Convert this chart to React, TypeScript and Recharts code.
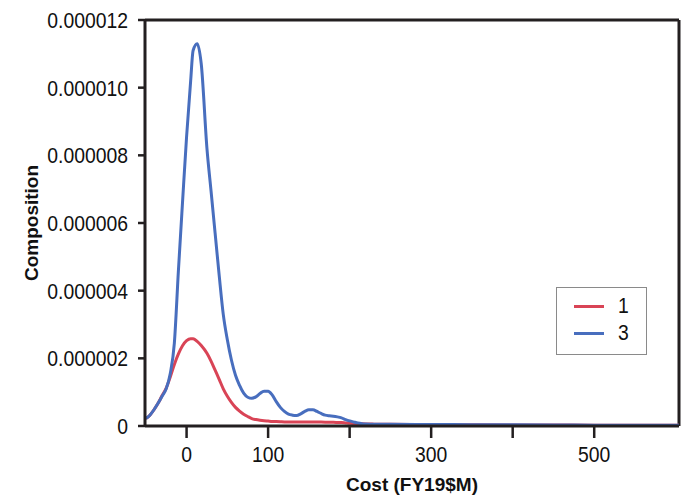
import React from 'react';
import { LineChart, Line, XAxis, YAxis, ReferenceLine } from 'recharts';

const costs = [-50, -45, -40, -35, -30, -25, -20, -15, -10, -5, 0, 5, 8, 13, 18, 25, 30, 35, 40, 45, 50, 55, 60, 65, 70, 75, 80, 85, 90, 95, 100, 105, 110, 115, 120, 125, 130, 135, 140, 145, 150, 155, 160, 165, 170, 175, 180, 185, 190, 195, 200, 205, 210, 215, 220, 230, 250, 300, 350, 400, 450, 500, 550, 604];

const series3 = [0.22e-6, 0.32e-6, 0.48e-6, 0.67e-6, 0.88e-6, 1.1e-6, 1.55e-6, 2.45e-6, 4.6e-6, 6.6e-6, 8.55e-6, 10.2e-6, 11.1e-6, 11.3e-6, 10.7e-6, 8.2e-6, 6.95e-6, 5.7e-6, 4.45e-6, 3.3e-6, 2.55e-6, 1.95e-6, 1.5e-6, 1.2e-6, 0.97e-6, 0.85e-6, 0.82e-6, 0.86e-6, 0.96e-6, 1.03e-6, 1.03e-6, 0.92e-6, 0.72e-6, 0.55e-6, 0.43e-6, 0.35e-6, 0.32e-6, 0.31e-6, 0.36e-6, 0.43e-6, 0.48e-6, 0.48e-6, 0.43e-6, 0.37e-6, 0.32e-6, 0.3e-6, 0.29e-6, 0.27e-6, 0.24e-6, 0.19e-6, 0.15e-6, 0.12e-6, 0.09e-6, 0.07e-6, 0.06e-6, 0.05e-6, 0.05e-6, 0.045e-6, 0.04e-6, 0.035e-6, 0.03e-6, 0.025e-6, 0.02e-6, 0.02e-6];

const series1 = [0.22e-6, 0.32e-6, 0.48e-6, 0.67e-6, 0.9e-6, 1.12e-6, 1.45e-6, 1.82e-6, 2.13e-6, 2.37e-6, 2.52e-6, 2.58e-6, 2.58e-6, 2.5e-6, 2.38e-6, 2.15e-6, 1.92e-6, 1.65e-6, 1.38e-6, 1.1e-6, 0.88e-6, 0.7e-6, 0.55e-6, 0.44e-6, 0.35e-6, 0.28e-6, 0.22e-6, 0.19e-6, 0.17e-6, 0.155e-6, 0.145e-6, 0.135e-6, 0.13e-6, 0.125e-6, 0.12e-6, 0.12e-6, 0.12e-6, 0.12e-6, 0.12e-6, 0.12e-6, 0.12e-6, 0.12e-6, 0.118e-6, 0.116e-6, 0.114e-6, 0.112e-6, 0.11e-6, 0.105e-6, 0.1e-6, 0.09e-6, 0.08e-6, 0.075e-6, 0.07e-6, 0.065e-6, 0.06e-6, 0.055e-6, 0.05e-6, 0.04e-6, 0.035e-6, 0.03e-6, 0.03e-6, 0.025e-6, 0.02e-6, 0.02e-6];

const xTicks = [0, 100, 200, 300, 400, 500];
const xTickLabels = ['0', '100', '', '300', '', '500'];
const yTicks = [0, 0.000002, 0.000004, 0.000006, 0.000008, 0.00001, 0.000012];
const yTickLabels = ['0', '0.000002', '0.000004', '0.000006', '0.000008', '0.000010', '0.000012'];

const seriesNames = ['1', '3'];
const RED = '#D94456';
const BLUE = '#486EBE';
const AXIS = '#231F20';
const FONT = '"Liberation Sans", Arial, sans-serif';
const SQUEEZE = 0.88;

const data = costs.map((c, i) => ({ x: c, s1: series1[i], s3: series3[i] }));

const XTick = (props: any) => {
  const { x, y, payload } = props;
  const label = xTickLabels[xTicks.indexOf(payload.value)] ?? '';
  if (!label) return null;
  return (
    <text transform={`translate(${x},${y}) scale(${SQUEEZE},1)`} x={0} y={0} dy="0.71em" textAnchor="middle" fontFamily={FONT} fontSize={22} fill="#111">
      {label}
    </text>
  );
};

const YTick = (props: any) => {
  const { x, y, payload } = props;
  const label = yTickLabels[yTicks.indexOf(payload.value)] ?? '';
  return (
    <text transform={`translate(${x},${y}) scale(${SQUEEZE},1)`} x={0} y={0} dy="0.36em" textAnchor="end" fontFamily={FONT} fontSize={22} fill="#111">
      {label}
    </text>
  );
};

const YTitle = (props: any) => {
  const vb = props.viewBox || {};
  const cx = 31;
  const cy = vb.y + vb.height / 2;
  return (
    <text x={cx} y={cy} transform={`rotate(-90, ${cx}, ${cy})`} textAnchor="middle" dominantBaseline="central" fontFamily={FONT} fontWeight="bold" fontSize={19} fill="#111">
      Composition
    </text>
  );
};

const LegendBox = () => (
  <div style={{ position: 'absolute', left: 556, top: 287, width: 91, height: 68, border: '1.5px solid #8a8a8a', background: '#fff', boxSizing: 'border-box', fontFamily: FONT }}>
    {[RED, BLUE].map((col, i) => (
      <div key={i} style={{ position: 'absolute', left: 17, top: 6 + i * 27, height: 24, display: 'flex', alignItems: 'center' }}>
        <div style={{ width: 30, height: 3, background: col }} />
        <span style={{ marginLeft: 14, fontSize: 22, color: '#111', lineHeight: '24px', display: 'inline-block', transform: `scaleX(${SQUEEZE})`, transformOrigin: 'left center' }}>{seriesNames[i]}</span>
      </div>
    ))}
  </div>
);

export default function App() {
  return (
    <div style={{ position: 'absolute', left: 0, top: 0, width: 682, height: 496, background: '#fff' }}>
      <LineChart width={682} height={496} data={data} margin={{ top: 20, right: 3, bottom: 0, left: 0 }}>
        <XAxis
          dataKey="x"
          type="number"
          domain={[-51, 604]}
          allowDataOverflow
          ticks={xTicks}
          height={70}
          tickSize={12}
          tickMargin={8}
          axisLine={{ stroke: AXIS, strokeWidth: 3 }}
          tickLine={{ stroke: AXIS, strokeWidth: 2.5 }}
          tick={<XTick />}
          interval={0}
          label={{ value: 'Cost (FY19$M)', position: 'insideBottom', offset: 5, fill: '#111', fontSize: 19, fontWeight: 'bold', fontFamily: FONT }}
        />
        <YAxis
          type="number"
          domain={[0, 0.000012]}
          ticks={yTicks}
          width={145}
          tickSize={7}
          tickMargin={10}
          axisLine={{ stroke: AXIS, strokeWidth: 3 }}
          tickLine={{ stroke: AXIS, strokeWidth: 2.5 }}
          tick={<YTick />}
          interval={0}
          label={<YTitle />}
        />
        <ReferenceLine y={0.000012} stroke={AXIS} strokeWidth={3} />
        <ReferenceLine x={604} stroke={AXIS} strokeWidth={3} />
        <Line type="monotone" dataKey="s1" stroke={RED} strokeWidth={3} dot={false} isAnimationActive={false} />
        <Line type="monotone" dataKey="s3" stroke={BLUE} strokeWidth={3} dot={false} isAnimationActive={false} />
      </LineChart>
      <LegendBox />
    </div>
  );
}
